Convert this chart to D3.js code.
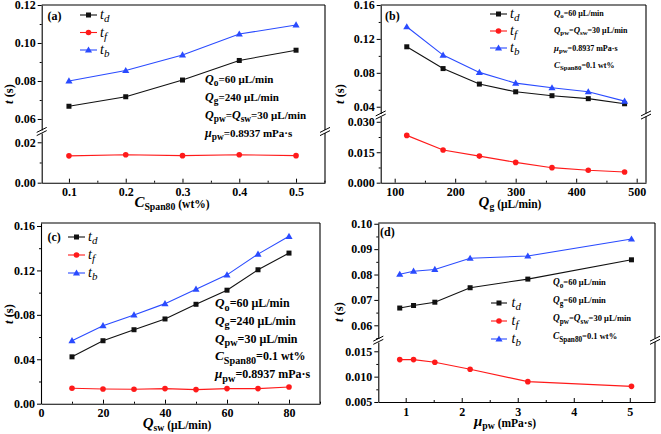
<!DOCTYPE html>
<html><head><meta charset="utf-8">
<script src="https://cdn.jsdelivr.net/npm/d3@7"></script>
<style>
body{margin:0;background:#fff}
svg{display:block}
text{font-family:"Liberation Serif","Times New Roman",serif}
</style>
</head><body>
<svg id="c" width="661" height="434"></svg>
<script>
// ---------- data ----------
const seriesNames = ["d", "f", "b"];
const spanX  = [0.1, 0.2, 0.3, 0.4, 0.5];
const spanTd = [0.0667, 0.0717, 0.0805, 0.0908, 0.0962];
const spanTf = [0.0133, 0.0138, 0.0134, 0.0138, 0.0134];
const spanTb = [0.0800, 0.0855, 0.0937, 0.1047, 0.1095];

const qgX  = [120, 180, 240, 300, 360, 420, 480];
const qgTd = [0.1107, 0.0850, 0.0667, 0.0576, 0.0530, 0.0495, 0.0435];
const qgTf = [0.0233, 0.0161, 0.0131, 0.0100, 0.0074, 0.0061, 0.0053];
const qgTb = [0.1343, 0.1009, 0.0805, 0.0678, 0.0623, 0.0576, 0.0466];

const qswX  = [10, 20, 30, 40, 50, 60, 70, 80];
const qswTd = [0.0422, 0.0567, 0.0666, 0.0763, 0.0895, 0.1022, 0.1206, 0.1356];
const qswTf = [0.0139, 0.0133, 0.0130, 0.0136, 0.0127, 0.0136, 0.0136, 0.0151];
const qswTb = [0.0567, 0.0702, 0.0799, 0.0901, 0.1031, 0.1160, 0.1347, 0.1507];

const muX  = [0.8937, 1.14, 1.52, 2.15, 3.18, 5.03];
const muTd = [0.0668, 0.0678, 0.0691, 0.0748, 0.0782, 0.0858];
const muTf = [0.01336, 0.01336, 0.01283, 0.01145, 0.00901, 0.00809];
const muTb = [0.0801, 0.0813, 0.0820, 0.0864, 0.0873, 0.0940];

// tick labels
const aXTicks = [0.1, 0.2, 0.3, 0.4, 0.5];
const aYUpper = [0.06, 0.08, 0.10, 0.12];
const aYLower = [0.00, 0.02];
const bXTicks = [100, 200, 300, 400, 500];
const bYUpper = [0.04, 0.08, 0.12, 0.16];
const bYLower = [0.000, 0.015, 0.030];
const cXTicks = [0, 20, 40, 60, 80];
const cYTicks = [0.00, 0.04, 0.08, 0.12, 0.16];
const dXTicks = [1, 2, 3, 4, 5];
const dYUpper = [0.06, 0.07, 0.08, 0.09, 0.10];
const dYLower = [0.005, 0.010, 0.015];

// annotation texts: [text, style] ; style: "" bold, "i" italic, "s" subscript
const annA = [
  [["Q","i"],["o","s"],["=60 μL/min",""]],
  [["Q","i"],["g","s"],["=240 μL/min",""]],
  [["Q","i"],["pw","s"],["=",""],["Q","i"],["sw","s"],["=30 μL/min",""]],
  [["μ","i"],["pw","s"],["=0.8937 mPa·s",""]]
];
const annB = [
  [["Q","i"],["o","s"],["=60 μL/min",""]],
  [["Q","i"],["pw","s"],["=",""],["Q","i"],["sw","s"],["=30 μL/min",""]],
  [["μ","i"],["pw","s"],["=0.8937 mPa·s",""]],
  [["C","i"],["Span80","s"],["=0.1 wt%",""]]
];
const annC = [
  [["Q","i"],["o","s"],["=60 μL/min",""]],
  [["Q","i"],["g","s"],["=240 μL/min",""]],
  [["Q","i"],["pw","s"],["=30 μL/min",""]],
  [["C","i"],["Span80","s"],["=0.1 wt%",""]],
  [["μ","i"],["pw","s"],["=0.8937 mPa·s",""]]
];
const annD = [
  [["Q","i"],["o","s"],["=60 μL/min",""]],
  [["Q","i"],["g","s"],["=60 μL/min",""]],
  [["Q","i"],["pw","s"],["=",""],["Q","i"],["sw","s"],["=30 μL/min",""]],
  [["C","i"],["Span80","s"],["=0.1 wt%",""]]
];
const xTitleA = [["C","i"],["Span80","s"],[" (wt%)",""]];
const xTitleB = [["Q","i"],["g","s"],[" (μL/min)",""]];
const xTitleC = [["Q","i"],["sw","s"],[" (μL/min)",""]];
const xTitleD = [["μ","i"],["pw","s"],[" (mPa·s)",""]];

// ---------- drawing ----------
const svg = d3.select("#c");
const colors = {d: "#111111", f: "#ff1a1a", b: "#2a4bff"};

function rich(g, x, y, parts, size, anchor, iScale, back) {
  iScale = iScale || 1.1;
  back = back === undefined ? 1 : back;
  const t = g.append("text").attr("x", x).attr("y", y)
    .attr("font-size", size).attr("font-weight", "bold").attr("fill", "#000");
  if (anchor) t.attr("text-anchor", anchor);
  let shifted = false;
  parts.forEach(([s, st]) => {
    const ts = t.append("tspan").text(s);
    if (st === "i") { ts.attr("font-style", "italic").attr("font-size", size * iScale); }
    if (st === "s") {
      ts.attr("font-size", size * 0.85).attr("dy", shifted ? 0 : size * 0.3);
      shifted = true;
    } else if (shifted) {
      ts.attr("dy", -size * 0.3 * back); shifted = false;
    }
  });
  return t;
}

function marker(g, type, x, y, col) {
  if (type === "d") g.append("rect").attr("x", x - 2.5).attr("y", y - 2.5).attr("width", 5).attr("height", 5).attr("fill", col);
  else if (type === "f") g.append("circle").attr("cx", x).attr("cy", y).attr("r", 2.8).attr("fill", col);
  else g.append("path").attr("d", d3.symbol(d3.symbolTriangle, 22)()).attr("transform", `translate(${x},${y + 0.5})`).attr("fill", col);
}

function minorOf(ticks, dom) {
  const step = ticks[1] - ticks[0];
  const out = [];
  const lo = Math.min(dom[0], dom[1]), hi = Math.max(dom[0], dom[1]);
  for (let v = ticks[0] - step / 2; v <= hi + 1e-9; v += step) if (v >= lo - 1e-9) out.push(v);
  return out;
}

function drawPanel(p) {
  const g = svg.append("g");
  const x = d3.scaleLinear().domain(p.xDomain).range([p.left, p.right]);
  const segs = p.segs.map(s => Object.assign({}, s, {
    y: d3.scaleLinear().domain(s.domain).range(s.range)
  }));
  // frame top and right
  g.append("line").attr("x1", p.left).attr("x2", p.right).attr("y1", p.top).attr("y2", p.top).attr("stroke", "#000").attr("stroke-width", 1.1);
  segs.forEach(s => {
    g.append("line").attr("x1", p.right).attr("x2", p.right).attr("y1", s.range[0]).attr("y2", s.range[1]).attr("stroke", "#000").attr("stroke-width", 1.1);
  });
  // left axes
  segs.forEach(s => {
    const ax = g.append("g").attr("transform", `translate(${p.left},0)`)
      .call(d3.axisLeft(s.y).tickValues(s.ticks).tickFormat(d3.format(s.fmt)).tickSizeInner(4).tickSizeOuter(0).tickPadding(2));
    ax.selectAll("text").attr("font-size", 12).attr("font-weight", "bold").attr("font-family", "Liberation Serif, serif").attr("fill", "#000");
    ax.select(".domain").attr("stroke-width", 1.1);
    const mn = g.append("g").attr("transform", `translate(${p.left},0)`)
      .call(d3.axisLeft(s.y).tickValues(minorOf(s.ticks, s.domain)).tickFormat("").tickSizeInner(2).tickSizeOuter(0));
    mn.select(".domain").remove();
  });
  // bottom axis
  const bx = g.append("g").attr("transform", `translate(0,${p.bottom})`)
    .call(d3.axisBottom(x).tickValues(p.xTicks).tickFormat(d3.format(p.xFmt)).tickSizeInner(-4).tickSizeOuter(0).tickPadding(5));
  bx.selectAll("text").attr("font-size", 12).attr("font-weight", "bold").attr("font-family", "Liberation Serif, serif").attr("fill", "#000");
  bx.select(".domain").attr("stroke-width", 1.1);
  const bm = g.append("g").attr("transform", `translate(0,${p.bottom})`)
    .call(d3.axisBottom(x).tickValues(minorOf(p.xTicks, p.xDomain)).tickFormat("").tickSizeInner(-2).tickSizeOuter(0));
  bm.select(".domain").remove();
  // break marks
  if (segs.length > 1) {
    const yb = (segs[0].range[0] + segs[1].range[1]) / 2;
    [p.left, p.right].forEach(xx => {
      [-1.6, 1.6].forEach(o => {
        g.append("line").attr("x1", xx - 5).attr("x2", xx + 5)
          .attr("y1", yb + o + 2.5).attr("y2", yb + o - 2.5)
          .attr("stroke", "#000").attr("stroke-width", 1);
      });
    });
  }
  // series
  p.series.forEach(sr => {
    const s = segs[sr.seg];
    const pts = sr.xs.map((xv, i) => [x(xv), s.y(sr.ys[i])]);
    g.append("path").attr("d", d3.line()(pts)).attr("fill", "none")
      .attr("stroke", colors[sr.key]).attr("stroke-width", 1.1);
    pts.forEach(([px, py]) => marker(g, sr.key, px, py, colors[sr.key]));
  });
  // legend
  seriesNames.forEach((k, i) => {
    const ly = p.leg.y + i * p.leg.dy;
    g.append("line").attr("x1", p.leg.x1).attr("x2", p.leg.x2).attr("y1", ly).attr("y2", ly)
      .attr("stroke", colors[k]).attr("stroke-width", 1.1);
    marker(g, k, (p.leg.x1 + p.leg.x2) / 2, ly, colors[k]);
    const t = g.append("text").attr("x", p.leg.tx).attr("y", ly + 4).attr("font-size", 14).attr("font-style", "italic").attr("fill", "#000");
    t.append("tspan").text("t");
    t.append("tspan").text(k).attr("font-size", 11).attr("dy", 3);
  });
  // panel label
  g.append("text").attr("x", p.lab[0]).attr("y", p.lab[1]).attr("font-size", 12).attr("font-weight", "bold").text(p.label);
  // annotations
  p.ann.forEach((row, i) => rich(g, p.annX, p.annY + i * p.annDy, row, p.annSize));
  // titles
  rich(g, p.xt[0], p.xt[1], p.xTitle, 11.5, "middle", 1.3, 0.6);
  const yt = g.append("text").attr("transform", `translate(${p.yt[0]},${p.yt[1]}) rotate(-90)`)
    .attr("text-anchor", "middle").attr("font-size", 12.5).attr("font-weight", "bold");
  yt.append("tspan").text("t").attr("font-style", "italic");
  yt.append("tspan").text(" (s)");
}

drawPanel({
  label: "(a)", lab: [47.5, 19.5],
  left: 41.7, right: 325, top: 5, bottom: 182.7,
  xDomain: [0.052, 0.551], xTicks: aXTicks, xFmt: ".1f",
  segs: [
    {domain: [0.0542, 0.12], range: [130, 5], ticks: aYUpper, fmt: ".2f"},
    {domain: [0, 0.0246], range: [182.7, 133], ticks: aYLower, fmt: ".2f"}
  ],
  series: [
    {key: "d", xs: spanX, ys: spanTd, seg: 0},
    {key: "f", xs: spanX, ys: spanTf, seg: 1},
    {key: "b", xs: spanX, ys: spanTb, seg: 0}
  ],
  leg: {x1: 80, x2: 97, tx: 100, y: 15, dy: 17.5},
  ann: annA, annX: 205, annY: 83, annDy: 18, annSize: 11,
  xTitle: xTitleA, xt: [172, 207], yt: [13, 94]
});

drawPanel({
  label: "(b)", lab: [385, 19.5],
  left: 380.7, right: 646, top: 5, bottom: 182.7,
  xDomain: [76.9, 515.4], xTicks: bXTicks, xFmt: "d",
  segs: [
    {domain: [0.032, 0.16], range: [113.5, 5], ticks: bYUpper, fmt: ".2f"},
    {domain: [0, 0.0326], range: [182.7, 116.5], ticks: bYLower, fmt: ".3f"}
  ],
  series: [
    {key: "d", xs: qgX, ys: qgTd, seg: 0},
    {key: "f", xs: qgX, ys: qgTf, seg: 1},
    {key: "b", xs: qgX, ys: qgTb, seg: 0}
  ],
  leg: {x1: 490, x2: 507, tx: 510, y: 14, dy: 17},
  ann: annB, annX: 554, annY: 15.5, annDy: 17.5, annSize: 8,
  xTitle: xTitleB, xt: [510, 207], yt: [344, 94]
});

drawPanel({
  label: "(c)", lab: [47.5, 241],
  left: 41, right: 320, top: 223, bottom: 403.7,
  xDomain: [0, 90], xTicks: cXTicks, xFmt: "d",
  segs: [
    {domain: [0, 0.1627], range: [403.7, 223], ticks: cYTicks, fmt: ".2f"}
  ],
  series: [
    {key: "d", xs: qswX, ys: qswTd, seg: 0},
    {key: "f", xs: qswX, ys: qswTf, seg: 0},
    {key: "b", xs: qswX, ys: qswTb, seg: 0}
  ],
  leg: {x1: 68, x2: 85, tx: 88, y: 237, dy: 18},
  ann: annC, annX: 215, annY: 307, annDy: 17.8, annSize: 12,
  xTitle: xTitleC, xt: [177, 428], yt: [13, 314]
});

drawPanel({
  label: "(d)", lab: [380, 236],
  left: 378.3, right: 655, top: 223, bottom: 402,
  xDomain: [0.511, 5.45], xTicks: dXTicks, xFmt: "d",
  segs: [
    {domain: [0.0548, 0.1003], range: [338.5, 223], ticks: dYUpper, fmt: ".2f"},
    {domain: [0.005, 0.01683], range: [402, 342], ticks: dYLower, fmt: ".3f"}
  ],
  series: [
    {key: "d", xs: muX, ys: muTd, seg: 0},
    {key: "f", xs: muX, ys: muTf, seg: 1},
    {key: "b", xs: muX, ys: muTb, seg: 0}
  ],
  leg: {x1: 491, x2: 507, tx: 511.5, y: 303, dy: 18},
  ann: annD, annX: 553, annY: 285, annDy: 18, annSize: 8.5,
  xTitle: xTitleD, xt: [505, 426], yt: [343, 312]
});
</script>
</body></html>
